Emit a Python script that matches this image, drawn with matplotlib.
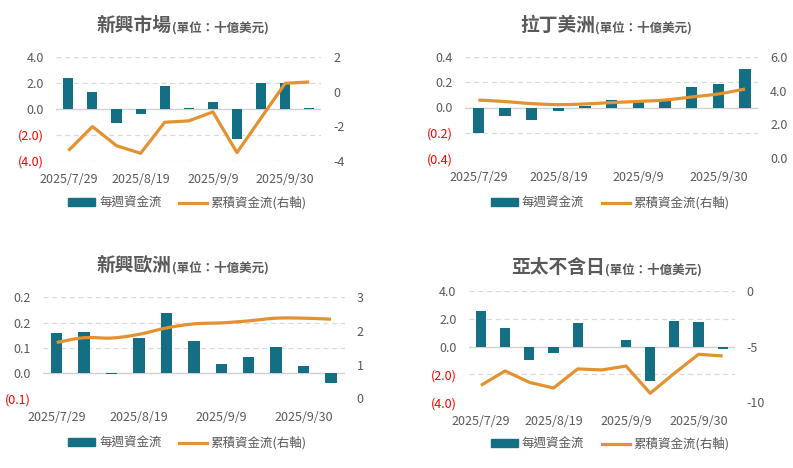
import matplotlib
matplotlib.use("Agg")
import matplotlib.pyplot as plt
import matplotlib.ticker as mticker
import numpy as np

plt.rcParams['font.family'] = ['Noto Sans CJK TC', 'DejaVu Sans']

dates = ["2025/7/29", "2025/8/5", "2025/8/12", "2025/8/19", "2025/8/26", "2025/9/2",
         "2025/9/9", "2025/9/16", "2025/9/23", "2025/9/30", "2025/10/7"]
tick_idx = [0, 3, 6, 9]

# weekly flows (left axis) and cumulative flows (right axis), billion USD
em_weekly = [2.40, 1.32, -1.06, -0.36, 1.78, 0.08, 0.54, -2.30, 2.01, 2.00, 0.08]
em_cum = [-3.42, -2.02, -3.13, -3.57, -1.77, -1.69, -1.17, -3.53, -1.52, 0.49, 0.57]

latam_weekly = [-0.203, -0.066, -0.097, -0.026, 0.010, 0.058, 0.058, 0.063, 0.160, 0.184, 0.300]
latam_cum = [3.44, 3.35, 3.23, 3.17, 3.21, 3.29, 3.36, 3.44, 3.62, 3.80, 4.09]

eme_weekly = [0.128, 0.131, -0.004, 0.112, 0.189, 0.100, 0.030, 0.052, 0.084, 0.023, -0.030]
eme_cum = [1.66, 1.80, 1.79, 1.90, 2.09, 2.21, 2.24, 2.30, 2.38, 2.38, 2.35]

apxj_weekly = [2.53, 1.31, -0.95, -0.45, 1.67, -0.05, 0.45, -2.48, 1.81, 1.74, -0.17]
apxj_cum = [-8.48, -7.19, -8.21, -8.72, -7.01, -7.10, -6.75, -9.19, -7.40, -5.70, -5.85]

BAR = "#146F85"
LINE = "#E3922F"
TXT = "#595959"
W, H = 793, 468

fig = plt.figure(figsize=(W / 100, H / 100), dpi=100)


def px_axes(x0, y0, x1, y1):
    return fig.add_axes([x0 / W, 1 - y1 / H, (x1 - x0) / W, (y1 - y0) / H])


def smooth(x, y, n=12):
    # catmull-rom drawing path through the data points (Excel "smoothed line")
    x = np.asarray(x, float)
    y = np.asarray(y, float)
    px = np.concatenate([[2 * x[0] - x[1]], x, [2 * x[-1] - x[-2]]])
    py = np.concatenate([[2 * y[0] - y[1]], y, [2 * y[-1] - y[-2]]])
    xs, ys = [], []
    t = np.linspace(0, 1, n, endpoint=False)
    for i in range(1, len(px) - 2):
        for arr, out in ((px, xs), (py, ys)):
            p0, p1, p2, p3 = arr[i - 1], arr[i], arr[i + 1], arr[i + 2]
            out.extend(0.5 * ((2 * p1) + (-p0 + p2) * t + (2 * p0 - 5 * p1 + 4 * p2 - p3) * t ** 2
                              + (-p0 + 3 * p1 - 3 * p2 + p3) * t ** 3))
    xs.append(x[-1])
    ys.append(y[-1])
    return xs, ys


def left_fmt(v, pos):
    if v < -1e-9:
        return "(%.1f)" % abs(v)
    return "%.1f" % abs(v)


def draw(rect, title, weekly, cum, lticks, rlim, rticks, rfmt, smoothed, title_x, title_y, legend_xy):
    ax = px_axes(*rect)
    x = np.arange(len(weekly))
    ax.bar(x, weekly, width=0.42, color=BAR, zorder=3)
    ax.set_xlim(-0.5, len(weekly) - 0.5)
    ax.set_ylim(lticks[0], lticks[-1])
    ax.set_yticks(lticks)
    ax.yaxis.set_major_formatter(mticker.FuncFormatter(left_fmt))
    for t in lticks:
        if abs(t) < 1e-9:
            ax.axhline(0, color="#D0D0D0", lw=1.0, zorder=2)
        else:
            ax.axhline(t, color="#D9D9D9", lw=0.9, ls=(0, (4, 3)), zorder=1)
    ax.set_xticks(tick_idx)
    ax.set_xticklabels([dates[i] for i in tick_idx])
    ax.tick_params(axis="x", length=0, pad=9, labelsize=9, colors=TXT)
    ax.tick_params(axis="y", length=0, pad=9, labelsize=9, colors=TXT)
    for lab, t in zip(ax.get_yticklabels(), lticks):
        if t < -1e-9:
            lab.set_color("red")
    for s in ax.spines.values():
        s.set_visible(False)

    ax2 = ax.twinx()
    if smoothed:
        sx, sy = smooth(x, cum)
        ax2.plot(sx, sy, color=LINE, lw=2.3, solid_capstyle="butt", zorder=4)
    else:
        ax2.plot(x, cum, color=LINE, lw=2.3, solid_capstyle="butt", zorder=4)
    ax2.set_ylim(*rlim)
    ax2.set_yticks(rticks)
    ax2.yaxis.set_major_formatter(mticker.FormatStrFormatter(rfmt))
    ax2.tick_params(axis="y", length=0, pad=8.5, labelsize=9, colors=TXT)
    for s in ax2.spines.values():
        s.set_visible(False)

    big = fig.text(title_x / W, 1 - title_y / H, title, fontsize=13.5, fontweight="bold",
                   color=TXT, ha="left", va="baseline")
    ax.annotate("(單位：十億美元)", xy=(1, 0), xycoords=big, fontsize=9, fontweight="bold",
                color=TXT, ha="left", va="bottom")

    hb = plt.Rectangle((0, 0), 1, 1, color=BAR)
    hl = plt.Line2D([], [], color=LINE, lw=2.3)
    fig.legend([hb, hl], ["每週資金流", "累積資金流(右軸)"], loc="center",
               bbox_to_anchor=(legend_xy[0] / W, 1 - legend_xy[1] / H), ncol=2, frameon=False,
               fontsize=9, labelcolor=TXT, handlelength=2.2, handleheight=0.6,
               handletextpad=0.3, columnspacing=1.4)


draw((56.3, 57.3, 321.3, 160.7), "新興市場", em_weekly, em_cum, [-4, -2, 0, 2, 4],
     (-4, 2), [-4, -2, 0, 2], "%d", False, 97, 31, (187, 203))
draw((465, 56.7, 758.3, 158.3), "拉丁美洲", latam_weekly, latam_cum, [-0.4, -0.2, 0, 0.2, 0.4],
     (0, 6), [0, 2, 4, 6], "%.1f", True, 520, 31, (610, 203))
draw((43, 297.3, 344.7, 398.3), "新興歐洲", eme_weekly, eme_cum, [-0.08, 0, 0.08, 0.16, 0.24],
     (0, 3), [0, 1, 2, 3], "%d", True, 97, 271, (187, 443))
draw((468.9, 290.7, 734.8, 402.3), "亞太不含日", apxj_weekly, apxj_cum, [-4, -2, 0, 2, 4],
     (-10, 0), [-10, -5, 0], "%d", False, 511, 273, (610, 444))

fig.savefig("out.png", dpi=100, facecolor="white")
